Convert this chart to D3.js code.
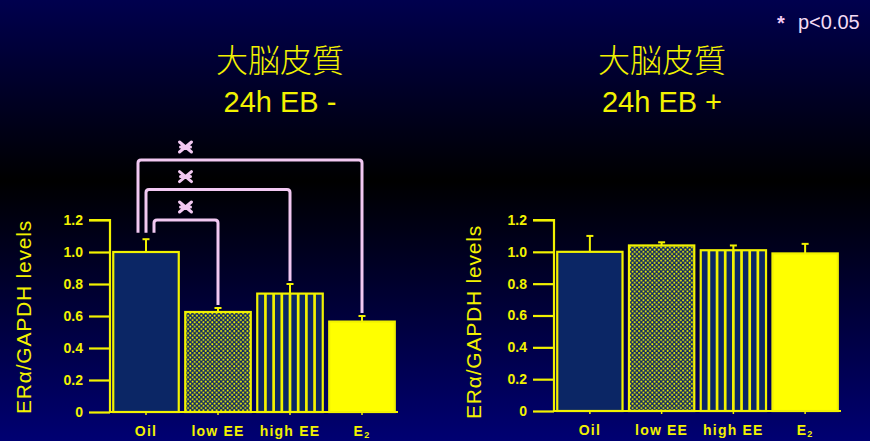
<!DOCTYPE html>
<html><head><meta charset="utf-8">
<script src="https://cdn.jsdelivr.net/npm/d3@7"></script>
<style>
html,body{margin:0;padding:0;background:#000;}
svg{display:block;}
</style></head>
<body>
<script>
// ---------- data ----------
const categories = ["Oil", "low EE", "high EE", "E2"];
const valuesMinus = [1.00, 0.625, 0.74, 0.565];
const semMinus    = [0.08, 0.025, 0.06, 0.035];
const valuesPlus  = [1.00, 1.04, 1.01, 0.99];
const semPlus     = [0.10, 0.02, 0.03, 0.06];
const yTicks = [0, 0.2, 0.4, 0.6, 0.8, 1.0, 1.2];
const titleMain = "大脳皮質";
const subtitleMinus = "24h EB -";
const subtitlePlus = "24h EB +";
const yLabel = "ERα/GAPDH levels";
const legendText = "p<0.05";
// significance brackets (Oil vs group): target index, bracket height, left offset
const comparisons = [
  {to: 1, level: 1.20, off: 8},
  {to: 2, level: 1.39, off: 0},
  {to: 3, level: 1.575, off: -8}
];

// ---------- setup ----------
const W = 870, H = 441;
const YEL = "#f2f200", NAVY = "#0b2665", PINK = "#f2c8f2";
const svg = d3.select("body").append("svg").attr("width", W).attr("height", H);
const defs = svg.append("defs");
const grad = defs.append("linearGradient").attr("id","bg").attr("x1",0).attr("y1",0).attr("x2",0).attr("y2",1);
grad.append("stop").attr("offset","0%").attr("stop-color","#00004e");
grad.append("stop").attr("offset","41%").attr("stop-color","#000000");
grad.append("stop").attr("offset","100%").attr("stop-color","#000072");
svg.append("rect").attr("width",W).attr("height",H).attr("fill","url(#bg)");

const dots = defs.append("pattern").attr("id","dots").attr("patternUnits","userSpaceOnUse")
  .attr("width",4.4).attr("height",4.4);
dots.append("rect").attr("width",4.4).attr("height",4.4).attr("fill",NAVY);
dots.append("circle").attr("cx",1.1).attr("cy",1.1).attr("r",1.0).attr("fill",YEL);
dots.append("circle").attr("cx",3.3).attr("cy",3.3).attr("r",1.0).attr("fill",YEL);

function drawPanel(cfg){
  const g = svg.append("g");
  const x = d3.scaleBand().domain(categories).range(cfg.xr).paddingInner(0.09).paddingOuter(0.045);
  const y = d3.scaleLinear().domain([0,1.2]).range(cfg.yr);
  const x0 = cfg.xr[0];

  // titles
  g.append("text").attr("x",cfg.tc).attr("y",72).attr("text-anchor","middle")
    .attr("fill",YEL).style("font-family","'Noto Sans CJK JP'").style("font-weight",300)
    .style("font-size","32px").text(titleMain);
  g.append("text").attr("x",cfg.tc).attr("y",111.5).attr("text-anchor","middle")
    .attr("fill",YEL).style("font-family","'Liberation Sans', Arial").style("font-size","29px")
    .text(cfg.sub);

  // y label
  g.append("text").attr("transform",`translate(${cfg.yl[0]},${cfg.yl[1]}) rotate(-90)`)
    .attr("text-anchor","middle").attr("fill",YEL)
    .style("font-family","'Liberation Sans', Arial").style("font-size","21px").style("letter-spacing","0.8px")
    .text(yLabel);

  // y axis
  const yAxis = d3.axisLeft(y).tickValues(yTicks).tickSize(21).tickPadding(6)
    .tickFormat(d => d === 0 ? "0" : d3.format(".1f")(d));
  const ya = g.append("g").attr("transform",`translate(${x0},0)`).call(yAxis);
  ya.select(".domain").attr("stroke",YEL).attr("stroke-width",2.2).attr("d",`M-21,${y(1.2)}H0V${y(0)}`);
  ya.selectAll(".tick line").attr("stroke",YEL).attr("stroke-width",2.2);
  ya.selectAll(".tick text").attr("fill",YEL).style("font-family","'Liberation Sans', Arial")
    .style("font-weight","bold").style("font-size","14px");

  // x axis
  const xAxis = d3.axisBottom(x).tickSize(3).tickPadding(8).tickFormat("");
  const xa = g.append("g").attr("transform",`translate(0,${y(0)})`).call(xAxis);
  xa.select(".domain").attr("stroke",YEL).attr("stroke-width",2.2).attr("d",`M${x0},0H${cfg.xr[1]}`);
  xa.selectAll(".tick line").attr("stroke",YEL).attr("stroke-width",1.5);
  categories.forEach(c => {
    const t = g.append("text").attr("x",x(c)+x.bandwidth()/2).attr("y",y(0)+24)
      .attr("text-anchor","middle").attr("fill",YEL)
      .style("font-family","'Liberation Sans', Arial").style("font-weight","bold")
      .style("font-size","14px").style("letter-spacing","1.2px");
    if (c === "E2") { t.append("tspan").text("E"); t.append("tspan").attr("dy",2).style("font-size","9px").text("2"); }
    else t.text(c);
  });

  // error bars (upper)
  categories.forEach((c,i) => {
    const cx = x(c)+x.bandwidth()/2, top = y(cfg.vals[i]+cfg.sem[i]);
    g.append("line").attr("x1",cx).attr("x2",cx).attr("y1",y(cfg.vals[i])).attr("y2",top)
      .attr("stroke",YEL).attr("stroke-width",2);
    g.append("line").attr("x1",cx-3.5).attr("x2",cx+3.5).attr("y1",top).attr("y2",top)
      .attr("stroke",YEL).attr("stroke-width",2);
  });

  // bars
  const fills = [NAVY, "url(#dots)", NAVY, "#ffff00"];
  categories.forEach((c,i) => {
    const bx = x(c), bw = x.bandwidth(), by = y(cfg.vals[i]), bh = y(0)-y(cfg.vals[i]);
    g.append("rect").attr("x",bx).attr("y",by).attr("width",bw).attr("height",bh)
      .attr("fill",fills[i]).attr("stroke",YEL).attr("stroke-width",2.2);
    if (i === 2) {
      d3.range(1,8).forEach(k => {
        g.append("line").attr("x1",bx+k*bw/8).attr("x2",bx+k*bw/8).attr("y1",by).attr("y2",y(0))
          .attr("stroke",YEL).attr("stroke-width",2.7);
      });
    }
  });

  // significance brackets
  if (cfg.brackets) {
    const c0 = x(categories[0]) + x.bandwidth()/2;
    const c1 = x(categories[1]) + x.bandwidth()/2;
    comparisons.forEach(cmp => {
      const lx = c0 + cmp.off;
      const rc = categories[cmp.to];
      const rx = x(rc) + x.bandwidth()/2;
      const ly = y(cmp.level), r = 3;
      const bottomL = y(1.12);
      const bottomR = y(cfg.vals[cmp.to]+cfg.sem[cmp.to]) - 3;
      g.append("path").attr("fill","none").attr("stroke",PINK).attr("stroke-width",3)
        .attr("d",`M${lx},${bottomL}V${ly+r}Q${lx},${ly} ${lx+r},${ly}H${rx-r}Q${rx},${ly} ${rx},${ly+r}V${bottomR}`);
      const sx = (c0+c1)/2 + 3.5, sy = ly - 13;
      g.append("path").attr("fill","none").attr("stroke",PINK).attr("stroke-width",3)
        .attr("stroke-linecap","round")
        .attr("d",`M${sx-6},${sy-5}L${sx+6},${sy+5}M${sx-6},${sy+5}L${sx+6},${sy-5}M${sx-5},${sy}H${sx+5}`);
    });
  }
}

drawPanel({xr:[110,398], yr:[412,220], tc:280, sub:subtitleMinus, yl:[31,317],
  vals:valuesMinus, sem:semMinus, brackets:true});
drawPanel({xr:[554,841], yr:[411,220], tc:662, sub:subtitlePlus, yl:[481,322],
  vals:valuesPlus, sem:semPlus, brackets:false});

// legend
svg.append("text").attr("x",781).attr("y",30).attr("text-anchor","middle")
  .attr("fill",PINK).style("font-family","'Liberation Sans', Arial").style("font-size","20px")
  .style("font-weight","bold").text("*");
svg.append("text").attr("x",798).attr("y",29)
  .attr("fill","#f4dcf4").style("font-family","'Liberation Sans', Arial").style("font-size","20px")
  .text(legendText);
</script>
</body></html>
